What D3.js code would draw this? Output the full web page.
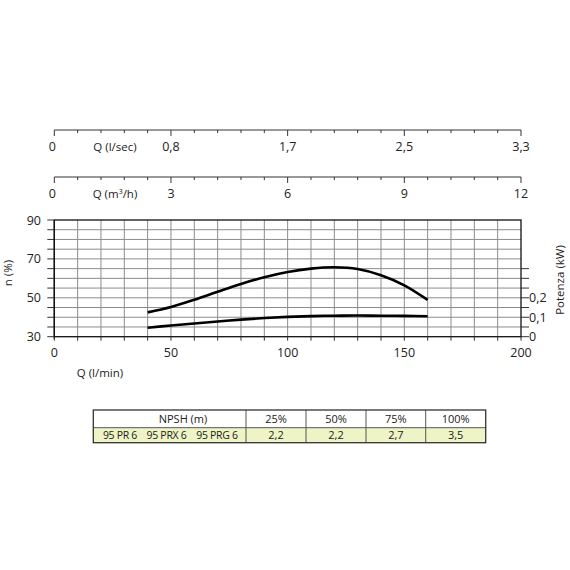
<!DOCTYPE html>
<html><head><meta charset="utf-8">
<script src="https://cdn.jsdelivr.net/npm/d3@7"></script>
<style>body{margin:0;background:#fff}svg{display:block}text{font-family:"Open Sans",sans-serif;fill:#222}</style>
</head><body><svg id="c" width="570" height="570"></svg>
<script>
// ---- data ----
const flowQ = [40,50,60,70,80,90,100,110,120,130,140,150,160];            // l/min
const efficiency = [42.5,45.3,49.0,53.1,57.1,60.6,63.3,65.0,65.7,64.8,61.6,56.4,48.9]; // %
const power = [0.046,0.058,0.068,0.078,0.088,0.096,0.102,0.106,0.108,0.109,0.108,0.107,0.105]; // kW
const qTicks = [0,50,100,150,200];
const lsecLabels = ["0","0,8","1,7","2,5","3,3"];
const m3hLabels = ["0","3","6","9","12"];
const effTicks = [30,50,70,90];
const powerTicks = [0,0.1,0.2];
const powerTickLabels = ["0","0,1","0,2"];
const npshHeader = ["NPSH (m)","25%","50%","75%","100%"];
const npshModels = ["95 PR 6","95 PRX 6","95 PRG 6"];
const npshValues = ["2,2","2,2","2,7","3,5"];

const svg = d3.select("#c");
const x = d3.scaleLinear().domain([0,200]).range([54.3,521]);
const y = d3.scaleLinear().domain([30,90]).range([336.7,220]);
const yp = d3.scaleLinear().domain([0,0.6]).range([336.7,220]);

// grid
const g = svg.append("g");
g.selectAll(".vg").data(d3.range(10,200,10)).enter().append("line")
  .attr("x1",d=>x(d)).attr("x2",d=>x(d)).attr("y1",y(90)).attr("y2",y(30))
  .attr("stroke","#8c8c8c").attr("stroke-width",1);
g.selectAll(".hg").data(d3.range(35,90,5)).enter().append("line")
  .attr("x1",x(0)).attr("x2",x(200)).attr("y1",d=>y(d)).attr("y2",d=>y(d))
  .attr("stroke","#8c8c8c").attr("stroke-width",1);
// frame
g.append("rect").attr("x",x(0)).attr("y",y(90)).attr("width",x(200)-x(0)).attr("height",y(30)-y(90))
  .attr("fill","none").attr("stroke","#111").attr("stroke-width",1.3);

// left axis ticks
g.selectAll(".lt").data(d3.range(30,91,5)).enter().append("line")
  .attr("x1",x(0)-7).attr("x2",x(0)).attr("y1",d=>y(d)).attr("y2",d=>y(d)).attr("stroke","#333");
g.selectAll(".ll").data(effTicks).enter().append("text")
  .attr("x",41).attr("y",d=>y(d)+4.5).attr("text-anchor","end").attr("font-size",12.5).text(d=>d);
g.append("line").attr("x1",x(0)).attr("x2",x(0)).attr("y1",y(90)).attr("y2",y(30)+2).attr("stroke","#111").attr("stroke-width",1.3);
g.append("text").attr("transform",`translate(12,273) rotate(-90)`).attr("text-anchor","middle").attr("font-size",11.5).text("n (%)");

// bottom axis ticks
g.selectAll(".bt").data(d3.range(0,201,10)).enter().append("line")
  .attr("x1",d=>x(d)).attr("x2",d=>x(d)).attr("y1",y(30)).attr("y2",y(30)+4).attr("stroke","#333");
g.selectAll(".bl").data(qTicks).enter().append("text")
  .attr("x",d=>x(d)).attr("y",357).attr("text-anchor","middle").attr("font-size",12.5).text(d=>d);
g.append("text").attr("x",100).attr("y",377).attr("text-anchor","middle").attr("font-size",11.5).text("Q (l/min)");

// right axis (power)
g.selectAll(".rt").data(d3.range(0,0.351,0.05)).enter().append("line")
  .attr("x1",x(200)).attr("x2",x(200)+8).attr("y1",d=>yp(d)).attr("y2",d=>yp(d)).attr("stroke","#333");
g.selectAll(".rl").data(powerTicks).enter().append("text")
  .attr("x",x(200)+8).attr("y",(d)=>yp(d)+4.5).attr("font-size",12.5).text((d,i)=>powerTickLabels[i]);
g.append("text").attr("transform",`translate(564,280) rotate(-90)`).attr("text-anchor","middle").attr("font-size",11.5).text("Potenza (kW)");

// curves
const lineE = d3.line().x((d,i)=>x(flowQ[i])).y(d=>y(d)).curve(d3.curveCatmullRom.alpha(0.5));
const lineP = d3.line().x((d,i)=>x(flowQ[i])).y(d=>yp(d)).curve(d3.curveCatmullRom.alpha(0.5));
g.append("path").attr("d",lineE(efficiency)).attr("fill","none").attr("stroke","#000").attr("stroke-width",2.6);
g.append("path").attr("d",lineP(power)).attr("fill","none").attr("stroke","#000").attr("stroke-width",2.6);

// top axes
function topAxis(yy, labels, title, isM3){
  const t = svg.append("g");
  t.append("line").attr("x1",x(0)).attr("x2",x(200)).attr("y1",yy).attr("y2",yy).attr("stroke","#333");
  t.selectAll("line.tk").data(d3.range(0,201,10)).enter().append("line")
    .attr("x1",d=>x(d)).attr("x2",d=>x(d)).attr("y1",yy).attr("y2",d=>yy+(d%50===0?6:3)).attr("stroke","#333");
  t.selectAll("text.tl").data(qTicks).enter().append("text")
    .attr("x",(d,i)=>x(d)-(i===0?2:0)).attr("y",yy+21).attr("text-anchor","middle").attr("font-size",12.5).text((d,i)=>labels[i]);
  const tt = t.append("text").attr("x",115).attr("y",yy+21).attr("text-anchor","middle").attr("font-size",11.5);
  if(isM3){
    tt.append("tspan").text("Q (m");
    tt.append("tspan").attr("font-size",7).attr("dy",-4).text("3");
    tt.append("tspan").attr("dy",4).text("/h)");
  } else tt.text(title);
}
topAxis(130, lsecLabels, "Q (l/sec)", false);
topAxis(177, m3hLabels, "", true);

// NPSH table
const colX = [93.3,246,306,366,425.7,485.7];
const rowY = [410,427.7,442.7];
const tb = svg.append("g");
tb.append("rect").attr("x",colX[0]).attr("y",rowY[1]).attr("width",colX[5]-colX[0]).attr("height",rowY[2]-rowY[1]).attr("fill","#eef4c6");
tb.selectAll("line.cs").data(colX.slice(1,5)).enter().append("line")
  .attr("x1",d=>d).attr("x2",d=>d).attr("y1",rowY[0]).attr("y2",rowY[2]).attr("stroke","#555");
tb.append("line").attr("x1",colX[0]).attr("x2",colX[5]).attr("y1",rowY[1]).attr("y2",rowY[1]).attr("stroke","#555");
tb.append("rect").attr("x",colX[0]).attr("y",rowY[0]).attr("width",colX[5]-colX[0]).attr("height",rowY[2]-rowY[0]).attr("fill","none").attr("stroke","#333").attr("stroke-width",1.3);
tb.selectAll("text.h").data(npshHeader).enter().append("text")
  .attr("x",(d,i)=> i===0 ? 183 : (colX[i]+colX[i+1])/2).attr("y",rowY[0]+13).attr("text-anchor","middle").attr("font-size",11).text(d=>d);
const modelX = [120,166.5,217];
tb.selectAll("text.m").data(npshModels).enter().append("text")
  .attr("x",(d,i)=>modelX[i]).attr("y",rowY[1]+11.5).attr("text-anchor","middle").attr("font-size",10.5).attr("letter-spacing",-0.3).text(d=>d);
tb.selectAll("text.v").data(npshValues).enter().append("text")
  .attr("x",(d,i)=>(colX[i+1]+colX[i+2])/2).attr("y",rowY[1]+11.5).attr("text-anchor","middle").attr("font-size",11).text(d=>d);
</script></body></html>
